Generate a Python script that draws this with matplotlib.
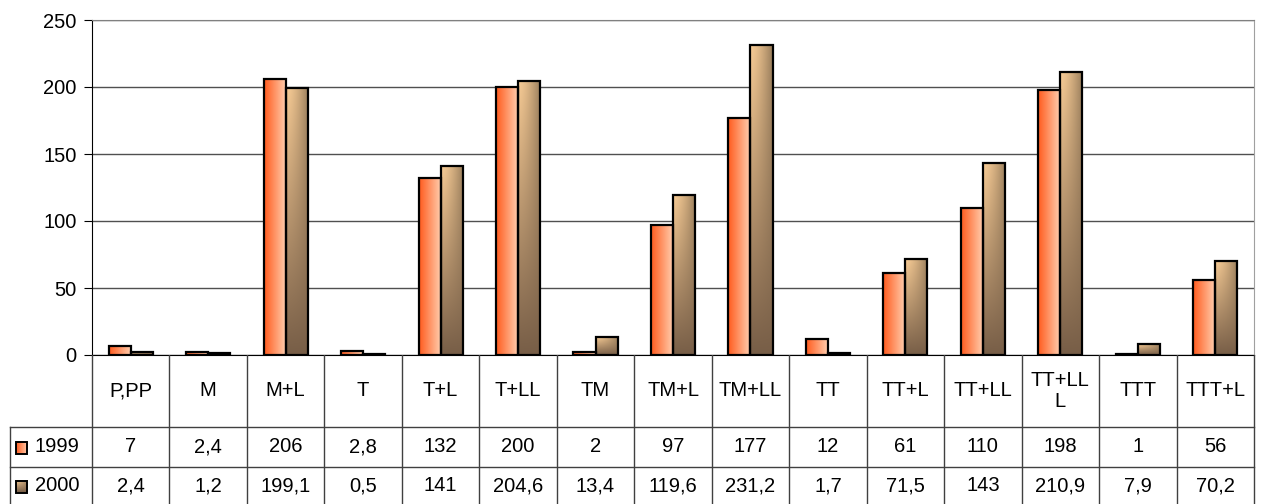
import numpy as np
import matplotlib.pyplot as plt
from matplotlib.patches import Rectangle

plt.rcParams['font.family'] = ['Liberation Sans', 'DejaVu Sans']

# data
categories = ['P,PP', 'M', 'M+L', 'T', 'T+L', 'T+LL', 'TM', 'TM+L', 'TM+LL',
              'TT', 'TT+L', 'TT+LL', 'TT+LL\nL', 'TTT', 'TTT+L']
vals_1999 = [7, 2.4, 206, 2.8, 132, 200, 2, 97, 177, 12, 61, 110, 198, 1, 56]
vals_2000 = [2.4, 1.2, 199.1, 0.5, 141, 204.6, 13.4, 119.6, 231.2, 1.7, 71.5, 143, 210.9, 7.9, 70.2]
labels_1999 = ['7', '2,4', '206', '2,8', '132', '200', '2', '97', '177', '12', '61', '110', '198', '1', '56']
labels_2000 = ['2,4', '1,2', '199,1', '0,5', '141', '204,6', '13,4', '119,6', '231,2', '1,7',
               '71,5', '143', '210,9', '7,9', '70,2']
series = ['1999', '2000']

W, H = 1261, 504
fig = plt.figure(figsize=(W / 100, H / 100), dpi=100)

ax_l, ax_r, ax_t, ax_b = 92, 1254, 20, 355
ax = fig.add_axes([ax_l / W, 1 - ax_b / H, (ax_r - ax_l) / W, (ax_b - ax_t) / H])
n = len(categories)
cw = (ax_r - ax_l) / n
fs = 14.5


def grad_1999(nx=64):
    t = np.linspace(0, 1, nx)
    c0 = np.array([1.0, 0.36, 0.12])
    c1 = np.array([1.0, 0.82, 0.70])
    img = c0[None, :] * (1 - t[:, None]) + c1[None, :] * t[:, None]
    return img[None, :, :]


def grad_2000(nx=32, ny=64):
    tx = np.linspace(0, 1, nx)[None, :, None]
    ty = np.linspace(0, 1, ny)[:, None, None]  # 0 bottom, 1 top
    bot = np.array([0.47, 0.37, 0.28])
    top = np.array([0.96, 0.79, 0.58])
    img = bot * (1 - ty) + top * ty
    img = img * (1 - 0.38 * tx ** 1.5 * ty)
    return np.clip(img, 0, 1)


x = np.arange(n)
bw = 0.285
bars1 = ax.bar(x - bw / 2, vals_1999, bw, facecolor='none', edgecolor='black', linewidth=1.6, zorder=3)
bars2 = ax.bar(x + bw / 2, vals_2000, bw, facecolor='none', edgecolor='black', linewidth=1.6, zorder=3)
for b in bars1:
    ax.imshow(grad_1999(), extent=[b.get_x(), b.get_x() + b.get_width(), 0, b.get_height()],
              aspect='auto', origin='lower', zorder=2, interpolation='bilinear')
for b in bars2:
    ax.imshow(grad_2000(), extent=[b.get_x(), b.get_x() + b.get_width(), 0, b.get_height()],
              aspect='auto', origin='lower', zorder=2, interpolation='bilinear')

ax.set_xlim(-0.5, n - 0.5)
ax.set_ylim(0, 250)
ax.set_yticks(range(0, 251, 50))
ax.tick_params(axis='y', labelsize=fs, length=6, direction='out', pad=5)
ax.set_xticks([])
ax.grid(axis='y', color='#505050', linewidth=1, zorder=0)
ax.spines['left'].set_color('black')
ax.spines['bottom'].set_color('black')
ax.spines['top'].set_color('#808080')
ax.spines['right'].set_color('#a0a0a0')

# data table below the axes
tab = fig.add_axes([0, 0, 1, (H - ax_b) / H])
tab.set_xlim(-0.5 - ax_l / cw, -0.5 + (W - ax_l) / cw)
tab.set_ylim(H, ax_b)
tab.axis('off')

row_y = [ax_b, 427, 467, H]
left_edge = -0.5 - (ax_l - 10) / cw
lc = '#404040'
for i in range(n + 1):
    tab.plot([i - 0.5, i - 0.5], [ax_b, H], color=lc, lw=1)
tab.plot([left_edge, left_edge], [row_y[1], H], color=lc, lw=1)
for yy in row_y[1:3]:
    tab.plot([left_edge, n - 0.5], [yy, yy], color=lc, lw=1)

for i, c in enumerate(categories):
    tab.text(i, (row_y[0] + row_y[1]) / 2, c, ha='center', va='center', fontsize=fs,
             linespacing=1.15)
for r, labs in enumerate([labels_1999, labels_2000]):
    yc = (row_y[r + 1] + row_y[r + 2]) / 2
    for i, s in enumerate(labs):
        tab.text(i, yc, s, ha='center', va='center', fontsize=fs)

# legend keys in row labels
sw = 11 / cw
sx = left_edge + 6 / cw
for r, name in enumerate(series):
    yc = (row_y[r + 1] + row_y[r + 2]) / 2 + 1
    img = grad_1999() if r == 0 else grad_2000()
    tab.imshow(img, extent=[sx, sx + sw, yc + 6, yc - 6], aspect='auto', origin='lower',
               zorder=2, interpolation='bilinear')
    tab.add_patch(Rectangle((sx, yc - 6), sw, 12, facecolor='none', edgecolor='black', lw=1.4, zorder=3))
    tab.text(sx + sw + 8 / cw, yc - 1, name, ha='left', va='center', fontsize=fs)

tab.set_xlim(-0.5 - ax_l / cw, -0.5 + (W - ax_l) / cw)
tab.set_ylim(H, ax_b)

fig.savefig('out.png', dpi=100)
